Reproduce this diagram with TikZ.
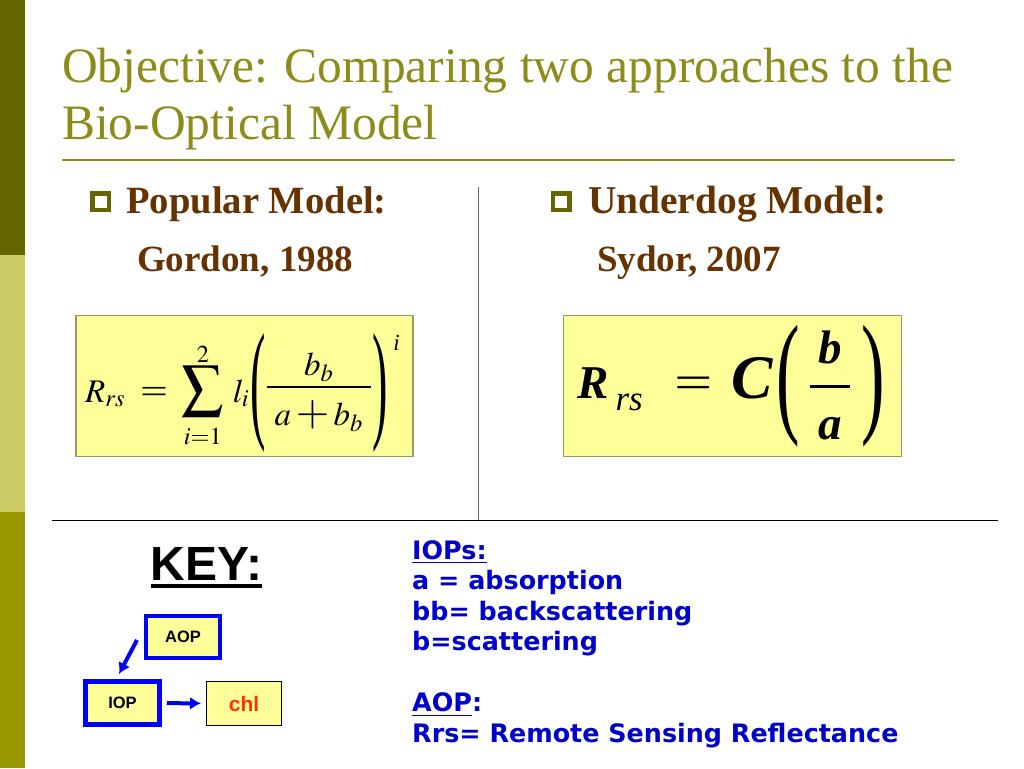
\documentclass[tikz,border=0pt]{standalone}
\usepackage{amsmath}
\usepackage{mathptmx}
\usepackage{fontspec}
\setmainfont{Liberation Serif}
\setsansfont{DejaVu Sans}
\newfontfamily\arialfont{Liberation Sans}
\usetikzlibrary{positioning,arrows.meta}

\definecolor{olivedark}{RGB}{102,102,0}
\definecolor{olivelight}{RGB}{204,204,102}
\definecolor{olivemid}{RGB}{153,153,0}
\definecolor{titleolive}{RGB}{140,140,26}
\definecolor{headbrown}{RGB}{102,51,0}
\definecolor{boxyellow}{RGB}{255,255,153}
\definecolor{boxedge}{RGB}{153,153,102}
\definecolor{keyblue}{RGB}{0,0,204}
\definecolor{chlred}{RGB}{255,51,0}

\newcommand{\bi}[1]{\textbf{\textit{#1}}}
% stretched round bracket: x scale, y scale, drop, glyph
\newcommand{\tallparen}[4]{\raisebox{-#3}{\scalebox{#1}[#2]{#4}}}

\begin{document}
\begin{tikzpicture}[x=1pt, y=1pt, >={Latex[length=11pt,width=13pt]},
 title/.style = {anchor=base west, inner sep=0pt, text=titleolive, font=\fontsize{49.5}{58}\selectfont},
 head/.style = {anchor=base west, inner sep=0pt, text=headbrown, font=\fontsize{37}{44}\selectfont\bfseries},
 bullet/.style = {draw=olivedark, line width=4.5pt, minimum size=16.5pt, inner sep=0pt},
 formula/.style = {draw=boxedge, fill=boxyellow, line width=1.2pt, minimum width=337pt, minimum height=141pt, inner sep=0pt},
 eq/.style = {anchor=base west, inner sep=0pt},
 keybox/.style = {draw=blue, fill=boxyellow, line width=4pt, minimum width=74pt, minimum height=42pt, inner sep=0pt, font=\arialfont\bfseries\fontsize{16.5}{20}\selectfont},
 legend/.style = {anchor=base west, inner sep=0pt, text=keyblue, font=\sffamily\bfseries\fontsize{25.4}{30}\selectfont},
 link/.style = {draw=blue, line width=4pt, ->},
                        ]
    \useasboundingbox (0,0) rectangle (1024,-768);
    \fill[white] (0,0) rectangle (1024,-768);
    \fill[olivedark]  (0,0)    rectangle (25,-255);
    \fill[olivelight] (0,-255) rectangle (25,-512);
    \fill[olivemid]   (0,-512) rectangle (25,-768);

    \node [title]                              (title1)  at (62,-82)  {Objective: Comparing two approaches to the};
    \node [title, below=57pt of title1.base west, anchor=base west] (title2) {Bio-Optical Model};
    \draw [titleolive, line width=2pt] (62,-160) -- (955,-160);

    \node [bullet]                             (bulL)    at (100.5,-201.5) {};
    \node [head, font=\fontsize{38.6}{44}\selectfont\bfseries] (popular) at (126,-213) {Popular Model:};
    \node [head]                               (gordon)  at (137,-271) {Gordon, 1988};
    \node [bullet]                             (bulR)    at (561,-201.5) {};
    \node [head, font=\fontsize{39.4}{44}\selectfont\bfseries] (underdog) at (588,-213) {Underdog Model:};
    \node [head]                               (sydor)   at (597,-271) {Sydor, 2007};

    \draw [gray!80!black, line width=1pt] (478,-187) -- (478,-520);
    \draw [black, line width=1pt] (52,-520) -- (998,-520);

    \node [formula]                            (gordonBox) at (244.5,-386) {};
    \node [formula, minimum width=338pt]       (sydorBox)  at (732.5,-386) {};
    \node [eq, font=\fontsize{33}{40}\selectfont] (gordonEq) at (85,-402)
        {$\displaystyle R_{rs}\hspace{15pt}\mbox{\scalebox{1.5}[1]{=}}\hspace{10pt}\mathop{\mbox{\scalebox{1.25}{$\displaystyle\sum$}}}\limits_{\raisebox{-7pt}{$\scriptstyle i=1$}}^{\raisebox{-6pt}{$\scriptstyle 2$}}\hspace{5pt}l_{i}\hspace{1pt}\mbox{\tallparen{1.4}{3.97}{22.3pt}{(}}\raisebox{7pt}{$\displaystyle\genfrac{}{}{1.5pt}{0}{\raisebox{-3pt}{$b_{b}$}}{\raisebox{-8pt}{\makebox[104pt]{$a \mathbin{\scalebox{1.3}{$+$}} b_{b}$}}}$}\mbox{\tallparen{1.4}{3.97}{22.3pt}{)}}\hspace{6pt}\raisebox{52pt}{\fontsize{23}{23}\selectfont\textit{i}}$};
    \node [eq, font=\fontsize{47}{56}\selectfont] (sydorEq) at (577,-398)
        {\bi{R}\hspace{7pt}\raisebox{-12pt}{\fontsize{35}{35}\selectfont\textit{rs}}\hspace{32pt}\scalebox{1.45}[1]{=}\hspace{18pt}{\fontsize{62}{62}\selectfont\bi{C}}\hspace{3pt}\tallparen{1.5}{2.86}{20.7pt}{(}\hspace{9pt}$\displaystyle\genfrac{}{}{2.5pt}{0}{\raisebox{3pt}{\makebox[40pt]{\bi{b}}}}{\raisebox{-9pt}{\makebox[40pt]{\bi{a}}}}$\hspace{10pt}\tallparen{1.5}{2.86}{20.7pt}{)}};

    \node [anchor=base, inner sep=0pt, font=\arialfont\bfseries\fontsize{48}{56}\selectfont] (key) at (206.5,-580) {KEY:};
    \draw [line width=4pt] ([yshift=-5.5pt]key.base west) -- ([yshift=-5.5pt]key.base east);

    \node [keybox]                             (aop)     at (183,-636.5) {AOP};
    \node [keybox, minimum width=74pt, minimum height=43pt, line width=4.5pt] (iop) at (122.5,-703) {IOP};
    \node [draw=black, fill=boxyellow, line width=1pt, minimum width=75pt, minimum height=44pt,
           text=chlred, font=\arialfont\bfseries\fontsize{21}{24}\selectfont] (chl) at (244,-703.5) {chl};
    \coordinate (aopTail) at (137,-640);
    \coordinate (iopTip)  at (119,-674);

    \node [legend]                             (iops)    at (412,-559) {\underline{IOPs:}};
    \node [legend, below=30.5pt of iops.base west, anchor=base west]   (absorp)  {a = absorption};
    \node [legend, below=30.5pt of absorp.base west, anchor=base west] (backsc)  {bb= backscattering};
    \node [legend, below=30.5pt of backsc.base west, anchor=base west] (scatt)   {b=scattering};
    \node [legend, below=61pt of scatt.base west, anchor=base west]    (aops)    {\underline{AOP}:};
    \node [legend, below=30.5pt of aops.base west, anchor=base west]   (rrs)     {Rrs= Remote Sensing Reflectance};

%% paths
    \draw [link] (aopTail) -- (iopTip);
    \draw [link, shorten <=5pt, shorten >=5pt] (iop) -- (chl);
\end{tikzpicture}
\end{document}
